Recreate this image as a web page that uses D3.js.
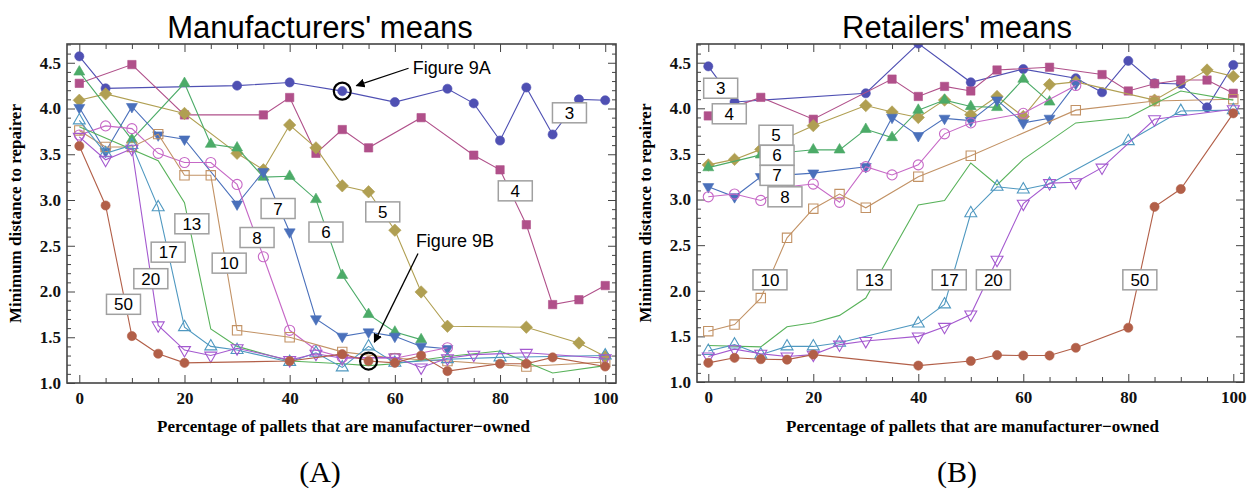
<!DOCTYPE html>
<html>
<head>
<meta charset="utf-8">
<script src="https://cdn.jsdelivr.net/npm/d3@7"></script>
<style>
body { margin: 0; background: #fff; }
</style>
</head>
<body>
<svg id="chart" width="1250" height="489"></svg>
<script>
//series ids (number of repairers) in drawing order
var seriesIds = ["3", "4", "5", "6", "7", "8", "10", "13", "17", "20", "50"];

var xTicks = [0, 20, 40, 60, 80, 100];
var yTicks = [1.0, 1.5, 2.0, 2.5, 3.0, 3.5, 4.0, 4.5];

//manufacturers' means: [percentage, distance]
var mfr3 = [[0,4.57],[5,4.22],[30,4.25],[40,4.285],[50,4.19],[60,4.07],[70,4.216],[75,4.056],[80,3.65],[85,4.23],[90,3.716],[95,4.10],[100,4.09]];
var mfr4 = [[0,4.275],[10,4.48],[20,3.93],[35,3.93],[40,4.12],[45,3.51],[50,3.77],[55,3.57],[65,3.90],[75,3.49],[80,3.33],[85,2.73],[90,1.857],[95,1.91],[100,2.065]];
var mfr5 = [[0,4.09],[5,4.16],[20,3.946],[30,3.51],[35,3.33],[40,3.82],[45,3.57],[50,3.155],[55,3.09],[60,2.67],[65,1.995],[70,1.62],[85,1.61],[95,1.437],[100,1.29]];
var mfr6 = [[0,4.40],[10,3.66],[20,4.275],[25,3.61],[30,3.57],[35,3.25],[40,3.26],[45,3.006],[50,2.177],[55,1.75],[60,1.557],[65,1.474]];
var mfr7 = [[0,4.01],[5,3.53],[10,4.02],[15,3.71],[20,3.665],[30,2.955],[35,3.31],[40,2.65],[45,1.70],[50,1.51],[55,1.557],[60,1.51],[65,1.40],[70,1.375]];
var mfr8 = [[0,3.71],[5,3.81],[10,3.78],[15,3.51],[20,3.41],[25,3.41],[30,3.17],[35,2.38],[40,1.576],[45,1.36],[50,1.28],[60,1.27],[70,1.385]];
var mfr10 = [[0,3.76],[5,3.58],[10,3.58],[15,3.72],[20,3.27],[25,3.27],[30,1.576],[40,1.50],[50,1.34],[60,1.27],[70,1.24],[85,1.18],[100,1.23]];
var mfr13 = [[0,3.80],[15,3.43],[20,2.97],[25,1.59],[30,1.40],[40,1.24],[50,1.21],[55,1.19],[60,1.21],[70,1.29],[80,1.35],[90,1.11],[100,1.19]];
var mfr17 = [[0,3.87],[5,3.51],[10,3.60],[15,2.92],[20,1.61],[25,1.40],[30,1.36],[40,1.23],[45,1.33],[50,1.17],[55,1.40],[60,1.22],[70,1.26],[80,1.28],[100,1.30]];
var mfr20 = [[0,3.69],[5,3.44],[10,3.56],[15,1.63],[20,1.36],[25,1.30],[30,1.38],[40,1.25],[45,1.32],[50,1.27],[60,1.28],[65,1.17],[70,1.27],[75,1.31],[85,1.33],[100,1.27]];
var mfr50 = [[0,3.59],[5,2.94],[10,1.513],[15,1.32],[20,1.22],[40,1.24],[50,1.315],[55,1.24],[60,1.22],[65,1.30],[70,1.13],[80,1.21],[85,1.21],[90,1.28],[100,1.18]];

//retailers' means
var ret3 = [[0,4.46],[5,4.07],[30,4.165],[40,4.71],[50,4.285],[60,4.43],[70,4.33],[75,4.176],[80,4.52],[85,4.275],[90,4.267],[95,4.01],[100,4.475]];
var ret4 = [[0,3.917],[10,4.12],[20,3.88],[35,4.32],[40,4.13],[45,4.24],[50,4.19],[55,4.42],[65,4.45],[75,4.37],[80,4.19],[85,4.27],[90,4.31],[95,4.31],[100,4.165]];
var ret5 = [[0,3.38],[5,3.44],[10,3.55],[20,3.81],[30,4.03],[35,3.96],[40,3.90],[45,4.09],[50,3.93],[55,4.13],[60,3.91],[65,4.26],[70,4.29],[85,4.09],[95,4.42],[100,4.35]];
var ret6 = [[0,3.35],[10,3.49],[20,3.545],[25,3.545],[30,3.77],[35,3.68],[40,3.98],[45,4.09],[50,4.02],[55,4.01],[60,4.32],[65,4.07]];
var ret7 = [[0,3.14],[5,3.03],[10,3.25],[20,3.29],[30,3.36],[35,3.90],[40,3.70],[45,3.89],[50,3.865],[55,4.09],[60,3.84],[65,3.89],[70,4.27]];
var ret8 = [[0,3.03],[5,3.06],[10,2.99],[15,3.14],[20,3.17],[25,2.97],[30,3.36],[35,3.27],[40,3.38],[45,3.72],[50,3.84],[60,3.945],[70,4.25]];
var ret10 = [[0,1.557],[5,1.63],[10,1.92],[15,2.58],[20,2.90],[25,3.06],[30,2.91],[40,3.25],[50,3.48],[70,3.98],[85,4.08],[100,4.10]];
var ret13 = [[0,1.40],[10,1.385],[15,1.605],[20,1.65],[25,1.73],[30,1.92],[40,2.94],[45,2.99],[50,3.40],[55,3.16],[60,3.44],[70,3.84],[80,3.90],[85,4.05],[90,4.19],[100,4.09]];
var ret17 = [[0,1.34],[5,1.41],[10,1.30],[15,1.39],[20,1.39],[25,1.43],[40,1.64],[45,1.85],[50,2.85],[55,3.14],[60,3.11],[65,3.17],[80,3.64],[90,3.97],[100,3.98]];
var ret20 = [[0,1.28],[5,1.36],[10,1.31],[15,1.28],[20,1.30],[25,1.41],[30,1.45],[40,1.50],[45,1.605],[50,1.74],[55,2.34],[60,2.955],[65,3.18],[70,3.19],[75,3.35],[85,3.88],[100,3.99]];
var ret50 = [[0,1.21],[5,1.265],[10,1.25],[15,1.245],[20,1.30],[40,1.18],[50,1.23],[55,1.295],[60,1.29],[65,1.29],[70,1.375],[80,1.595],[85,2.92],[90,3.115],[100,3.945]];

var mfrSeries = [mfr3, mfr4, mfr5, mfr6, mfr7, mfr8, mfr10, mfr13, mfr17, mfr20, mfr50];
var retSeries = [ret3, ret4, ret5, ret6, ret7, ret8, ret10, ret13, ret17, ret20, ret50];

//marker style per series
var styles = {
  "3":  {color: "#4f50b3", shape: "circle",   fill: true},
  "4":  {color: "#b0508a", shape: "square",   fill: true},
  "5":  {color: "#b09f52", shape: "diamond",  fill: true},
  "6":  {color: "#4cab68", shape: "triUp",    fill: true},
  "7":  {color: "#4a70bb", shape: "triDown",  fill: true},
  "8":  {color: "#c668c6", shape: "circle",   fill: false},
  "10": {color: "#c29265", shape: "square",   fill: false},
  "13": {color: "#58b25a", shape: "none",     fill: false},
  "17": {color: "#4f98c0", shape: "triUp",    fill: false},
  "20": {color: "#a459cf", shape: "triDown",  fill: false},
  "50": {color: "#b25f48", shape: "circle",   fill: true}
};

var svg = d3.select("#chart");
var serif = "'Liberation Serif', 'Times New Roman', serif";
var sans = "'Liberation Sans', Arial, Helvetica, sans-serif";

function markerPath(shape, filled){
  var s = filled ? 1 : 1.12;
  if(shape === "circle") return d3.symbol(d3.symbolCircle, filled ? 66 : 80)();
  if(shape === "square") return d3.symbol(d3.symbolSquare, 70 * s * s)();
  if(shape === "diamond"){
    var h = 6.2;
    return "M0," + (-h) + "L" + h + ",0L0," + h + "L" + (-h) + ",0Z";
  }
  if(shape === "triUp" || shape === "triDown") return d3.symbol(d3.symbolTriangle, filled ? 52 : 62)();
  return null;
}

function drawPanel(cfg){

  var x = d3.scaleLinear().domain(cfg.xDomain).range([cfg.left, cfg.right]);
  var y = d3.scaleLinear().domain([1.0, 4.705]).range([cfg.bottom, cfg.top]);
  var g = svg.append("g");

  var clipId = "clip" + cfg.name;
  svg.append("clipPath").attr("id", clipId)
    .append("rect")
    .attr("x", cfg.left).attr("y", cfg.top)
    .attr("width", cfg.right - cfg.left).attr("height", cfg.bottom - cfg.top);

  //ticks, all inward and mirrored
  var minorX = d3.range(0, 101, 5).filter(function(d){ return d % 20 !== 0; });
  var minorY = d3.range(10, 48).map(function(d){ return d / 10; }).filter(function(d){ return Math.round(d * 10) % 5 !== 0; });

  function tickGroup(axis, tx, ty){
    var a = g.append("g").attr("transform", "translate(" + tx + "," + ty + ")").call(axis);
    a.select(".domain").remove();
    a.selectAll("line").attr("stroke", "#444").attr("stroke-width", 1);
    return a;
  }

  var xb = tickGroup(d3.axisBottom(x).tickValues(xTicks).tickSize(-8).tickPadding(9).tickFormat(d3.format("d")), 0, cfg.bottom);
  xb.selectAll("text").attr("font-family", serif).attr("font-weight", "bold").attr("font-size", 17).attr("fill", "#111");
  tickGroup(d3.axisBottom(x).tickValues(minorX).tickSize(-5).tickFormat(""), 0, cfg.bottom);
  tickGroup(d3.axisTop(x).tickValues(xTicks).tickSize(-8).tickFormat(""), 0, cfg.top);
  tickGroup(d3.axisTop(x).tickValues(minorX).tickSize(-5).tickFormat(""), 0, cfg.top);

  var yl = tickGroup(d3.axisLeft(y).tickValues(yTicks).tickSize(-8).tickPadding(6).tickFormat(d3.format(".1f")), cfg.left, 0);
  yl.selectAll("text").attr("font-family", serif).attr("font-weight", "bold").attr("font-size", 17).attr("fill", "#111");
  tickGroup(d3.axisLeft(y).tickValues(minorY).tickSize(-4).tickFormat(""), cfg.left, 0);
  tickGroup(d3.axisRight(y).tickValues(yTicks).tickSize(-8).tickFormat(""), cfg.right, 0);
  tickGroup(d3.axisRight(y).tickValues(minorY).tickSize(-4).tickFormat(""), cfg.right, 0);

  //lines and markers
  var line = d3.line()
    .x(function(d){ return x(d[0]); })
    .y(function(d){ return y(d[1]); });

  var plotArea = g.append("g").attr("clip-path", "url(#" + clipId + ")");

  cfg.series.forEach(function(data, i){
    var st = styles[seriesIds[i]];
    plotArea.append("path")
      .attr("d", line(data))
      .attr("fill", "none")
      .attr("stroke", st.color)
      .attr("stroke-width", 1.1);

    if(st.shape === "none") return;
    var p = markerPath(st.shape, st.fill);
    plotArea.selectAll(null)
      .data(data)
      .enter()
      .append("path")
      .attr("d", p)
      .attr("transform", function(d){
        var t = "translate(" + x(d[0]) + "," + y(d[1]) + ")";
        return st.shape === "triDown" ? t + " rotate(180)" : t;
      })
      .attr("fill", st.fill ? st.color : "none")
      .attr("stroke", st.color)
      .attr("stroke-width", st.fill ? 0.6 : 1.1);
  });

  //frame
  g.append("rect")
    .attr("x", cfg.left).attr("y", cfg.top)
    .attr("width", cfg.right - cfg.left).attr("height", cfg.bottom - cfg.top)
    .attr("fill", "none").attr("stroke", "#444").attr("stroke-width", 1.6);

  //series labels
  cfg.labels.forEach(function(l, i){
    var cx = x(l[0]), cy = y(l[1]);
    g.append("rect")
      .attr("x", cx - 17).attr("y", cy - 10)
      .attr("width", 34).attr("height", 20)
      .attr("fill", "#fff").attr("stroke", "#a0a0a0").attr("stroke-width", 1.5);
    g.append("text")
      .attr("x", cx).attr("y", cy + 6)
      .attr("text-anchor", "middle")
      .attr("font-family", sans).attr("font-size", 17)
      .text(seriesIds[i]);
  });

  //titles
  svg.append("text")
    .attr("x", cfg.titleX).attr("y", 38)
    .attr("text-anchor", "middle")
    .attr("font-family", sans).attr("font-size", 31)
    .text(cfg.title);

  svg.append("text")
    .attr("x", (cfg.left + cfg.right) / 2 + 2).attr("y", 432)
    .attr("text-anchor", "middle")
    .attr("font-family", serif).attr("font-weight", "bold").attr("font-size", 17)
    .text("Percentage of pallets that are manufacturer\u2212owned");

  svg.append("text")
    .attr("transform", "translate(" + (cfg.left - 46) + "," + ((cfg.top + cfg.bottom) / 2) + ") rotate(-90)")
    .attr("text-anchor", "middle")
    .attr("font-family", serif).attr("font-weight", "bold").attr("font-size", 17)
    .text("Minimum distance to repairer");

  svg.append("text")
    .attr("x", cfg.capX).attr("y", 482)
    .attr("text-anchor", "middle")
    .attr("font-family", serif).attr("font-size", 30)
    .text(cfg.caption);

  return {x: x, y: y, g: g};
}

var left = drawPanel({
  name: "A",
  left: 67, right: 616, top: 44, bottom: 383,
  xDomain: [-2.34, 102.05],
  series: mfrSeries,
  labels: [[93.2,3.953],[82.9,3.10],[57.7,2.87],[46.9,2.65],[37.8,2.907],[33.8,2.59],[28.5,2.31],[21.4,2.74],[16.9,2.43],[13.6,2.14],[8.4,1.86]],
  title: "Manufacturers' means", titleX: 320,
  caption: "(A)", capX: 320
});

drawPanel({
  name: "B",
  left: 697, right: 1244, top: 44, bottom: 382,
  xDomain: [-2.15, 102.04],
  series: retSeries,
  labels: [[2.36,4.22],[4.0,3.94],[12.9,3.705],[13.1,3.485],[13.1,3.265],[14.6,3.03],[11.75,2.12],[31.6,2.12],[45.9,2.12],[54.3,2.12],[82.2,2.12]],
  title: "Retailers' means", titleX: 957,
  caption: "(B)", capX: 957
});

//annotations on the manufacturers' panel
svg.append("defs").append("marker")
  .attr("id", "arrow")
  .attr("viewBox", "0 0 10 10")
  .attr("refX", 9).attr("refY", 5)
  .attr("markerWidth", 9).attr("markerHeight", 9)
  .attr("markerUnits", "userSpaceOnUse")
  .attr("orient", "auto")
  .append("path").attr("d", "M0,0L10,5L0,10Z").attr("fill", "#000");

var notes = [
  {text: "Figure 9A", at: [50, 4.19], tx: 63.4, ty: 4.453, from: [62.6, 4.44], to: [52.7, 4.25]},
  {text: "Figure 9B", at: [55, 1.24], tx: 64.0, ty: 2.558, from: [64.4, 2.415], to: [56.1, 1.447]}
];

notes.forEach(function(n){
  left.g.append("circle")
    .attr("cx", left.x(n.at[0])).attr("cy", left.y(n.at[1]))
    .attr("r", 8.5)
    .attr("fill", "none").attr("stroke", "#000").attr("stroke-width", 2.2);
  left.g.append("line")
    .attr("x1", left.x(n.from[0])).attr("y1", left.y(n.from[1]))
    .attr("x2", left.x(n.to[0])).attr("y2", left.y(n.to[1]))
    .attr("stroke", "#000").attr("stroke-width", 1.3)
    .attr("marker-end", "url(#arrow)");
  left.g.append("text")
    .attr("x", left.x(n.tx)).attr("y", left.y(n.ty) + 6.5)
    .attr("font-family", sans).attr("font-size", 18)
    .text(n.text);
});
</script>
</body>
</html>
